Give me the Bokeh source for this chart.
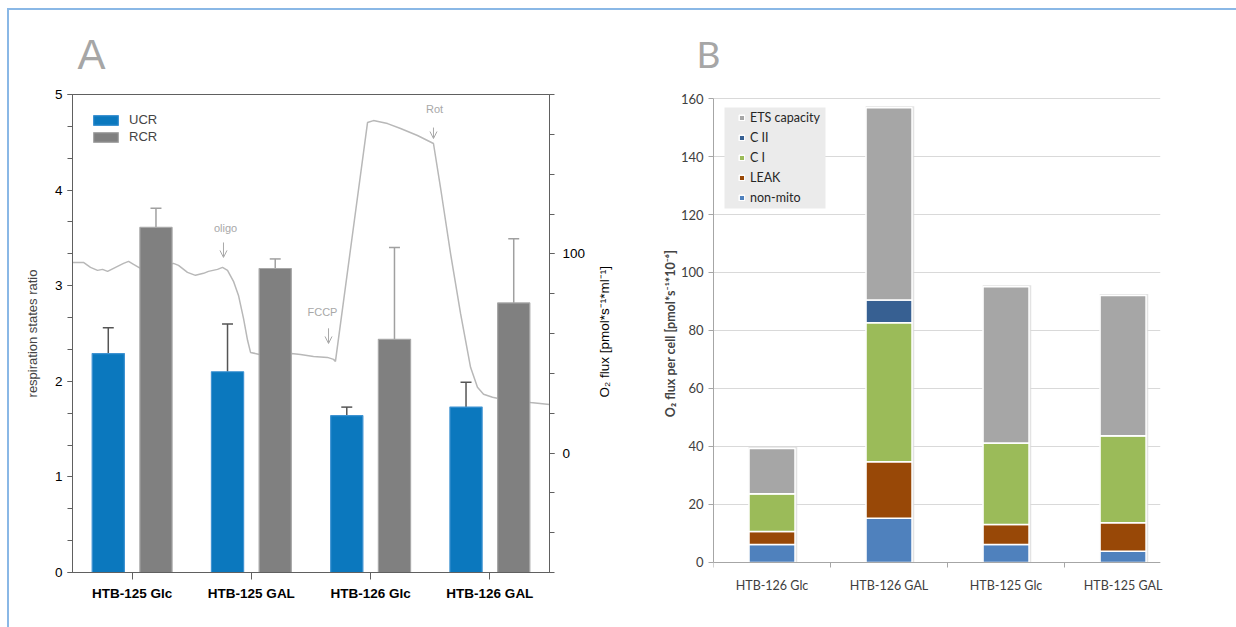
import math
from bokeh.plotting import figure
from bokeh.models import (Range1d, LinearAxis, FixedTicker, Legend, LegendItem,
                          ColumnDataSource, Arrow, OpenHead, BoxAnnotation)
from bokeh.layouts import row
from bokeh.embed import file_html
from bokeh.resources import INLINE
from bokeh.core.properties import value

# ---------------- Panel A data ----------------
groups_a = ["HTB-125 Glc", "HTB-125 GAL", "HTB-126 Glc", "HTB-126 GAL"]
ucr = [2.29, 2.10, 1.64, 1.73]
ucr_err_top = [2.56, 2.60, 1.73, 1.99]
rcr = [3.61, 3.18, 2.44, 2.82]
rcr_err_top = [3.81, 3.28, 3.40, 3.49]

# oxygen-flux trace (x in group units, y in pmol*s^-1*ml^-1)
trace_t = [0.0, 0.092, 0.151, 0.210, 0.252, 0.294, 0.361, 0.428, 0.470, 0.512, 0.570,
           0.847, 0.889, 0.964, 1.031, 1.099, 1.140, 1.216, 1.258, 1.300, 1.350, 1.392,
           1.434, 1.468, 1.493, 1.568, 1.836, 1.912, 2.021, 2.138, 2.189, 2.205,
           2.474, 2.524, 2.642, 2.751, 2.893, 3.027, 3.086, 3.170, 3.254, 3.338,
           3.396, 3.447, 3.522, 3.572, 3.841, 4.0]
trace_flux = [95.7, 95.7, 93.2, 91.7, 92.2, 91.2, 93.2, 95.2, 96.2, 94.7, 92.7,
              95.2, 94.2, 90.7, 89.2, 90.2, 91.2, 92.2, 93.2, 91.7, 86.2, 79.1,
              67.6, 56.6, 50.5, 49.5, 50.0, 49.5, 48.5, 48.0, 47.0, 46.0,
              165.9, 166.9, 165.4, 162.9, 159.4, 155.4, 133.3, 100.2, 70.1, 43.0,
              33.0, 29.5, 28.0, 27.4, 25.4, 24.4]

events = ["oligo", "FCCP", "Rot"]
event_t = [1.266, 2.147, 3.027]
event_label_t = [1.283, 2.096, 3.036]
event_label_flux = [113.2, 70.6, 172.9]
event_arrow_from = [105.7, 62.6, 163.4]
event_arrow_to = [98.2, 55.0, 157.9]

ratio_ticks = [0, 1, 2, 3, 4, 5]
ratio_minor = [k / 3 for k in range(16)]
flux_ticks = [0, 100]
flux_minor = [-60, -40, -20, 0, 20, 40, 60, 80, 100, 120, 140, 160, 180]
flux_range = (-60, 180)
ratio_range = (0, 5)
flux_label = "O₂ flux [pmol*s⁻¹*ml⁻¹]"
# the rotated right-hand title starts at this ratio value so that it sits centred
flux_label_anchor = 1.83

# ---------------- Panel B data ----------------
groups_b = ["HTB-126 Glc", "HTB-126 GAL", "HTB-125 Glc", "HTB-125 GAL"]
non_mito = [6.2, 15.3, 6.2, 3.9]
leak = [4.5, 19.4, 6.9, 9.8]
c_one = [13.0, 48.0, 28.1, 30.0]
c_two = [0.0, 7.8, 0.0, 0.0]
ets = [15.6, 66.3, 53.9, 48.4]
series_b = ["non-mito", "LEAK", "C I", "C II", "ETS capacity"]
colors_b = ["#4f81bd", "#984807", "#9bbb59", "#376092", "#a6a6a6"]
flux_b_ticks = [0, 20, 40, 60, 80, 100, 120, 140, 160]
flux_b_bounds = (0, 160)
# visible range padded so both frames share the same height
flux_b_view = (-3.45, 161.38)

FONT_A = "Liberation Sans"
FONT_B = "Lato"


def flux_to_ratio(f):
    return (f - flux_range[0]) / (flux_range[1] - flux_range[0]) * (ratio_range[1] - ratio_range[0])


# ================= Panel A =================
pA = figure(width=631, height=617, x_range=Range1d(0, 4), y_range=Range1d(*ratio_range),
            output_backend="svg", toolbar_location=None, title="A",
            min_border_left=63, min_border_right=91, min_border_top=84, min_border_bottom=55)
pA.extra_y_ranges = {"flux": Range1d(*flux_range)}
pA.background_fill_color = "white"
pA.border_fill_color = "white"
pA.outline_line_color = "#606060"
pA.xgrid.grid_line_color = None
pA.ygrid.grid_line_color = None

pA.title.text_font = FONT_A
pA.title.text_font_size = "42px"
pA.title.text_font_style = "normal"
pA.title.text_color = "#a6a6a6"
pA.title.offset = 5
pA.title.standoff = 33

centers_a = [i + 0.5 for i in range(len(groups_a))]
x_ucr = [c - 0.2 for c in centers_a]
x_rcr = [c + 0.2 for c in centers_a]

# trace (behind bars)
pA.line(trace_t, trace_flux, y_range_name="flux", line_color="#b8b8b8", line_width=1.5)

# error bars (upper only)
cap = 0.046
pA.segment(x0=x_ucr, y0=ucr, x1=x_ucr, y1=ucr_err_top, line_color="#555555", line_width=1.5)
pA.segment(x0=[x - cap for x in x_ucr], y0=ucr_err_top, x1=[x + cap for x in x_ucr],
           y1=ucr_err_top, line_color="#555555", line_width=1.5)
pA.segment(x0=x_rcr, y0=rcr, x1=x_rcr, y1=rcr_err_top, line_color="#a0a0a0", line_width=1.5)
pA.segment(x0=[x - cap for x in x_rcr], y0=rcr_err_top, x1=[x + cap for x in x_rcr],
           y1=rcr_err_top, line_color="#a0a0a0", line_width=1.5)

r_ucr = pA.vbar(x=x_ucr, top=ucr, width=0.27, fill_color="#0b78be", line_color="#3f93d2",
                line_width=1.2)
r_rcr = pA.vbar(x=x_rcr, top=rcr, width=0.27, fill_color="#808080", line_color="#a8a8a8",
                line_width=1.2)

# event annotations
pA.text(x=event_label_t, y=event_label_flux, text=events, y_range_name="flux",
        text_font=value(FONT_A), text_font_size="11px", text_color="#a8a8a8",
        text_align="center", text_baseline="middle")
for t, f0, f1 in zip(event_t, event_arrow_from, event_arrow_to):
    pA.add_layout(Arrow(end=OpenHead(size=7, line_color="#a8a8a8", line_width=1),
                        x_start=t, y_start=flux_to_ratio(f0), x_end=t, y_end=flux_to_ratio(f1),
                        line_color="#a8a8a8", line_width=1))

xa = pA.xaxis[0]
xa.ticker = FixedTicker(ticks=centers_a)
xa.major_label_overrides = {c: g for c, g in zip(centers_a, groups_a)}
xa.major_label_text_font = FONT_A
xa.major_label_text_font_size = "13.5px"
xa.major_label_text_font_style = "bold"
xa.major_label_text_color = "black"
xa.major_tick_out = 7
xa.major_tick_in = 0
xa.minor_tick_line_color = None
xa.axis_line_color = "#606060"
xa.major_tick_line_color = "#606060"
xa.major_label_standoff = 6

ya = pA.yaxis[0]
ya.ticker = FixedTicker(ticks=ratio_ticks, minor_ticks=ratio_minor)
ya.major_tick_out = 5
ya.major_tick_in = 0
ya.minor_tick_out = 5
ya.minor_tick_in = 0
ya.axis_line_color = "#606060"
ya.major_tick_line_color = "#606060"
ya.minor_tick_line_color = "#606060"
ya.major_label_text_font = FONT_A
ya.major_label_text_font_size = "13.5px"
ya.major_label_text_color = "black"
ya.major_label_standoff = 5
ya.axis_label = "respiration states ratio"
ya.axis_label_text_font = FONT_A
ya.axis_label_text_font_size = "13px"
ya.axis_label_text_font_style = "normal"
ya.axis_label_standoff = 12

yr = LinearAxis(y_range_name="flux", ticker=FixedTicker(ticks=flux_ticks, minor_ticks=flux_minor))
yr.major_tick_out = 5
yr.major_tick_in = 0
yr.minor_tick_out = 5
yr.minor_tick_in = 0
yr.axis_line_color = "#606060"
yr.major_tick_line_color = "#606060"
yr.minor_tick_line_color = "#606060"
yr.major_label_text_font = FONT_A
yr.major_label_text_font_size = "13.5px"
yr.major_label_text_color = "black"
yr.major_label_standoff = 8
pA.add_layout(yr, "right")

# right-hand axis title, reading bottom-to-top (as a rotated single tick label)
yr_title = LinearAxis(ticker=FixedTicker(ticks=[flux_label_anchor]),
                      major_label_overrides={flux_label_anchor: flux_label})
yr_title.major_label_orientation = math.pi / 2
yr_title.axis_line_color = None
yr_title.major_tick_line_color = None
yr_title.minor_tick_line_color = None
yr_title.major_tick_out = 0
yr_title.major_label_standoff = 16
yr_title.major_label_text_font = FONT_A
yr_title.major_label_text_font_size = "13.5px"
yr_title.major_label_text_color = "black"
pA.add_layout(yr_title, "right")

legA = Legend(items=[LegendItem(label="UCR", renderers=[r_ucr]),
                     LegendItem(label="RCR", renderers=[r_rcr])],
              location="top_left", border_line_color=None, background_fill_alpha=0,
              glyph_width=31, glyph_height=12, label_text_font=FONT_A,
              label_text_font_size="13px", label_standoff=8, spacing=2, padding=0,
              margin=18, label_height=14)
pA.add_layout(legA)

# ================= Panel B =================
pB = figure(width=596, height=617, x_range=Range1d(0, 3.82), y_range=Range1d(*flux_b_view),
            output_backend="svg", toolbar_location=None, title="B",
            min_border_left=73, min_border_right=76, min_border_top=84, min_border_bottom=55)
pB.background_fill_color = "white"
pB.border_fill_color = "white"
pB.outline_line_color = None
pB.xgrid.grid_line_color = None
pB.ygrid.grid_line_color = "#d9d9d9"
pB.ygrid.ticker = FixedTicker(ticks=flux_b_ticks)

pB.title.text_font = FONT_B
pB.title.text_font_size = "37px"
pB.title.text_font_style = "normal"
pB.title.text_color = "#a6a6a6"
pB.title.offset = -17
pB.title.standoff = 37

centers_b = [i + 0.5 for i in range(len(groups_b))]
src_b = ColumnDataSource(dict(x=centers_b, **{"non-mito": non_mito, "LEAK": leak, "C I": c_one,
                                             "C II": c_two, "ETS capacity": ets}))
totals_b = [a + b + c + d + e for a, b, c, d, e in zip(non_mito, leak, c_one, c_two, ets)]

# legend background panel
pB.add_layout(BoxAnnotation(left=0.094, right=0.957, top=156.9, bottom=122.1,
                            fill_color="#ebebeb", fill_alpha=1, line_color=None, level="underlay"))

# faint shadow around each stacked column
pB.vbar(x=[c + 0.008 for c in centers_b], top=[t + 0.5 for t in totals_b], width=0.415,
        fill_color="#dcdcdc", fill_alpha=0.8, line_color=None)

rs = pB.vbar_stack(series_b, x="x", width=0.393, source=src_b, fill_color=colors_b,
                   line_color="white", line_width=1.5)

legB = Legend(items=[LegendItem(label=s, renderers=[r]) for s, r in zip(series_b[::-1], rs[::-1])],
              location=(25, 367), border_line_color=None, background_fill_alpha=0,
              glyph_width=7, glyph_height=7, label_text_font=FONT_B,
              label_text_font_size="12.5px", label_text_color="#262626", label_standoff=5,
              spacing=4, padding=0, margin=0, label_height=16)
pB.add_layout(legB)

# category labels (below the frame, no line / ticks)
xb = pB.xaxis[0]
xb.ticker = FixedTicker(ticks=centers_b)
xb.major_label_overrides = {c: g for c, g in zip(centers_b, groups_b)}
xb.major_label_text_font = FONT_B
xb.major_label_text_font_size = "12.5px"
xb.major_label_text_color = "#404040"
xb.major_tick_line_color = None
xb.minor_tick_line_color = None
xb.major_tick_out = 0
xb.axis_line_color = None
xb.major_label_standoff = 5

# category axis line at zero with separator ticks
xb_line = LinearAxis(fixed_location=0, ticker=FixedTicker(ticks=[], minor_ticks=[0, 1, 2, 3]))
xb_line.axis_line_color = "#a6a6a6"
xb_line.major_tick_line_color = None
xb_line.minor_tick_out = 5
xb_line.minor_tick_in = 0
xb_line.minor_tick_line_color = "#a6a6a6"
xb_line.major_label_text_color = None
pB.add_layout(xb_line, "below")

yb = pB.yaxis[0]
yb.bounds = flux_b_bounds
yb.ticker = FixedTicker(ticks=flux_b_ticks)
yb.major_tick_out = 5
yb.major_tick_in = 0
yb.minor_tick_line_color = None
yb.axis_line_color = "#a6a6a6"
yb.major_tick_line_color = "#a6a6a6"
yb.major_label_text_font = FONT_B
yb.major_label_text_font_size = "13px"
yb.major_label_text_color = "#404040"
yb.major_label_standoff = 5
yb.axis_label = "O₂ flux per cell [pmol*s⁻¹*10⁻⁶]"
yb.axis_label_text_font = FONT_B
yb.axis_label_text_font_size = "12.5px"
yb.axis_label_text_font_style = "bold"
yb.axis_label_standoff = 0

layout = row(pA, pB, margin=(8, 0, 0, 7),
             styles={"border-top": "2px solid #8ab8e6", "border-left": "2px solid #8ab8e6"})

open("out.html", "w").write(file_html(layout, INLINE))
